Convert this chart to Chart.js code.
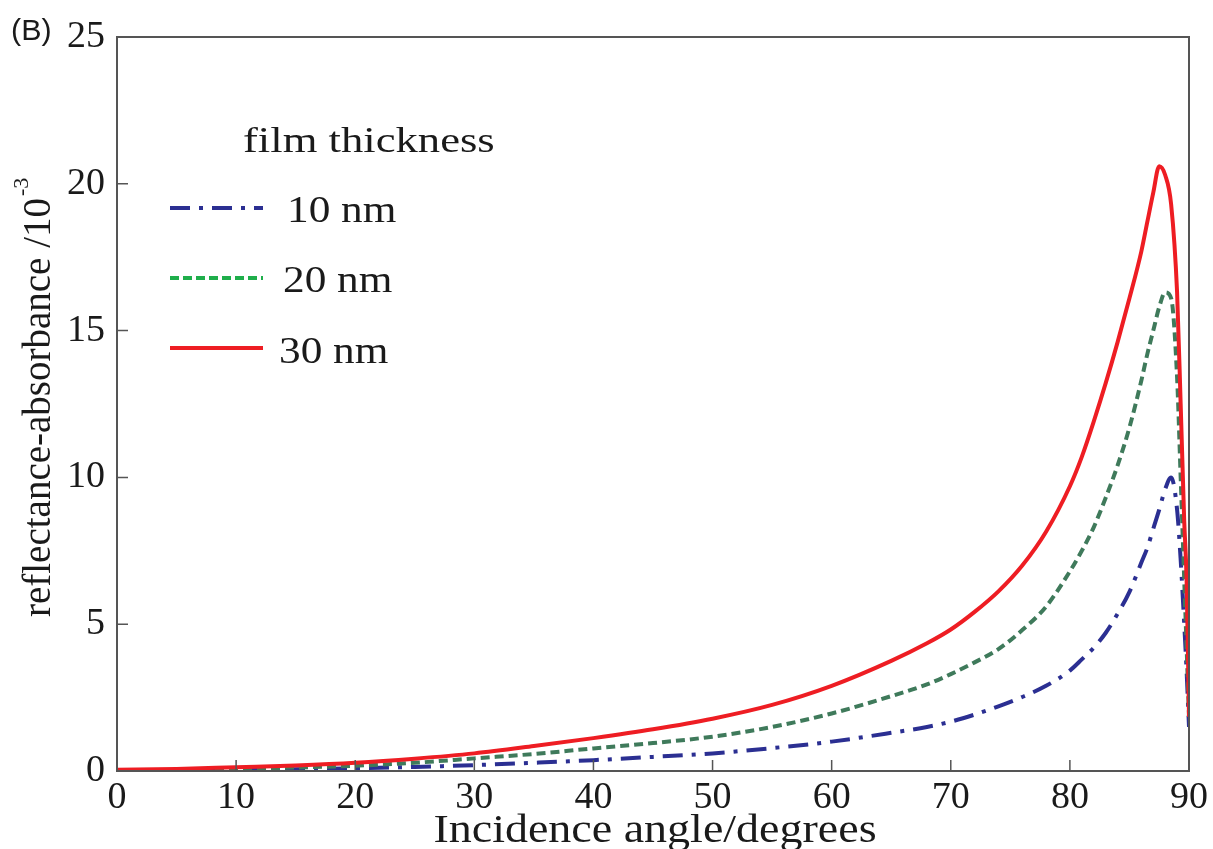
<!DOCTYPE html>
<html>
<head>
<meta charset="utf-8">
<script src="https://cdn.jsdelivr.net/npm/chart.js@4.4.1/dist/chart.umd.min.js"></script>
<style>
html,body{margin:0;padding:0;background:#fff}
</style>
</head>
<body>
<canvas id="rasChart" width="1213" height="849"></canvas>
<script>
// incidence angle (degrees) and reflectance-absorbance (x10^-3)
const angles = [0,5,10,15,20,25,30,35,40,45,50,55,60,65,68,70,72,74,76,78,80,81,82,83,84,85,86,86.5,87,87.5,88,88.5,89,89.3,89.6,89.8,90]
const ras10nm = [0.01,0.02,0.04,0.06,0.09,0.14,0.2,0.28,0.37,0.48,0.6,0.78,1.0,1.3,1.5,1.68,1.92,2.2,2.52,2.9,3.42,3.8,4.2,4.7,5.35,6.1,7.1,7.6,8.25,8.9,9.6,10.0,8.9,7.2,5.0,3.4,1.5]
const ras20nm = [0.02,0.04,0.07,0.12,0.18,0.28,0.43,0.58,0.77,0.95,1.17,1.5,1.96,2.55,2.95,3.3,3.7,4.15,4.8,5.6,6.8,7.5,8.3,9.3,10.4,11.7,13.3,14.2,15.0,15.8,16.3,16.1,13.4,10.0,6.5,4.2,1.85]
const ras30nm = [0.04,0.07,0.13,0.19,0.28,0.42,0.6,0.85,1.12,1.42,1.78,2.25,2.9,3.75,4.35,4.82,5.42,6.12,7.0,8.15,9.7,10.7,11.9,13.2,14.6,16.1,17.7,18.7,19.7,20.6,20.3,19.3,16.3,12.5,8.5,6.5,1.85]

const xTicks = [0,10,20,30,40,50,60,70,80,90]
const yTicks = [0,5,10,15,20,25]

const seriesNames = ["10 nm","20 nm","30 nm"]
const legendTitle = "film thickness"
const xTitle = "Incidence angle/degrees"
const yTitle = "reflectance-absorbance /10"
const yTitleExp = "-3"
const panelLabel = "(B)"

const serif = "'Liberation Serif','Times New Roman',serif"
const red = "#ee1d23"
const green = "#3f7a5b"
const greenKey = "#1fae4b"
const blue = "#2b2f92"

function pts(vals){
return angles.map((a,i)=>({x:a,y:vals[i]}))
}

function wideText(ctx,txt,x,y,sx){
ctx.save()
ctx.translate(x,y)
ctx.scale(sx,1)
ctx.fillText(txt,0,0)
ctx.restore()
}

// box, inward ticks, legend and titles
const decor = {
id:"decor",
afterDatasetsDraw(chart){
const ctx = chart.ctx
const a = chart.chartArea
const xs = chart.scales.x
const ys = chart.scales.y

ctx.save()
ctx.strokeStyle = "#555"
ctx.lineWidth = 2
ctx.strokeRect(a.left,a.top,a.right-a.left,a.bottom-a.top)

ctx.lineWidth = 1.5
ctx.beginPath()
xs.ticks.forEach(t=>{
if(t.value<=xTicks[0] || t.value>=xTicks[xTicks.length-1]) return
let px = xs.getPixelForValue(t.value)
ctx.moveTo(px,a.bottom)
ctx.lineTo(px,a.bottom-11)
})
ys.ticks.forEach(t=>{
if(t.value<=yTicks[0] || t.value>=yTicks[yTicks.length-1]) return
let py = ys.getPixelForValue(t.value)
ctx.moveTo(a.left,py)
ctx.lineTo(a.left+11,py)
})
ctx.stroke()

// legend
ctx.fillStyle = "#1a1a1a"
ctx.textBaseline = "alphabetic"
ctx.textAlign = "left"
ctx.font = "36px "+serif
wideText(ctx,legendTitle,243,152,1.24)

const keys = [
{color:blue,dash:[20,9,4,9],y:208,tx:287,ty:222},
{color:greenKey,dash:[9,4],y:278,tx:283,ty:292},
{color:red,dash:[],y:348,tx:279,ty:363}
]
keys.forEach((k,i)=>{
ctx.strokeStyle = k.color
ctx.lineWidth = 4
ctx.setLineDash(k.dash)
ctx.beginPath()
ctx.moveTo(170,k.y)
ctx.lineTo(263,k.y)
ctx.stroke()
ctx.setLineDash([])
ctx.font = "37px "+serif
wideText(ctx,seriesNames[i],k.tx,k.ty,1.17)
})

// axis titles
ctx.font = "40px "+serif
ctx.textAlign = "center"
wideText(ctx,xTitle,(a.left+a.right)/2+2,842,1.15)

ctx.save()
ctx.translate(50,617)
ctx.rotate(-Math.PI/2)
ctx.textAlign = "left"
ctx.font = "39px "+serif
ctx.fillText(yTitle,0,0)
let w = ctx.measureText(yTitle).width
ctx.font = "22px "+serif
ctx.fillText(yTitleExp,w+2,-22)
ctx.restore()

ctx.font = "29px 'Liberation Sans',Arial,sans-serif"
ctx.textAlign = "left"
wideText(ctx,panelLabel,11,40,1.05)
ctx.restore()
}
}

const ctx = document.getElementById("rasChart")

const chart = new Chart(ctx,{
type:"line",
data:{
datasets:[
{
label:seriesNames[0],
data:pts(ras10nm),
borderColor:blue,
borderWidth:4,
borderDash:[20,9,4,9],
order:2
},
{
label:seriesNames[1],
data:pts(ras20nm),
borderColor:green,
borderWidth:4,
borderDash:[9,5],
order:1
},
{
label:seriesNames[2],
data:pts(ras30nm),
borderColor:red,
borderWidth:4,
order:0
}
]
},
options:{
responsive:false,
devicePixelRatio:1,
animation:false,
layout:{padding:{top:37,right:24,left:0,bottom:0}},
elements:{
point:{radius:0},
line:{cubicInterpolationMode:"monotone",fill:false}
},
plugins:{
legend:{display:false},
tooltip:{enabled:false}
},
scales:{
x:{
type:"linear",
min:xTicks[0],
max:xTicks[xTicks.length-1],
afterBuildTicks:s=>{s.ticks = xTicks.map(v=>({value:v}))},
afterFit:s=>{s.height = 78},
grid:{display:false,drawTicks:false},
border:{display:false},
ticks:{font:{family:serif,size:38},color:"#1a1a1a",padding:4,maxRotation:0,autoSkip:false}
},
y:{
min:yTicks[0],
max:yTicks[yTicks.length-1],
afterBuildTicks:s=>{s.ticks = yTicks.map(v=>({value:v}))},
afterFit:s=>{s.width = 117},
grid:{display:false,drawTicks:false},
border:{display:false},
ticks:{font:{family:serif,size:38},color:"#1a1a1a",padding:12}
}
}
},
plugins:[decor]
})
</script>
</body>
</html>
